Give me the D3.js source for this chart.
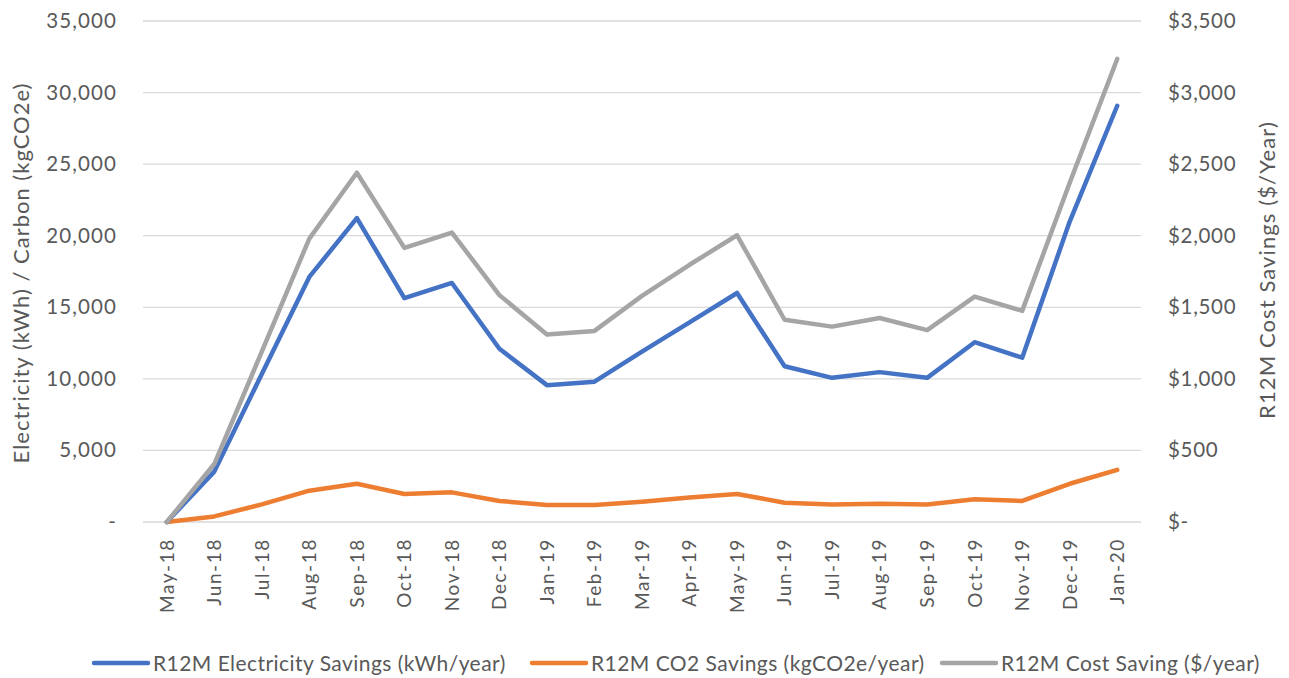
<!DOCTYPE html>
<html><head><meta charset="utf-8">
<script src="https://cdn.jsdelivr.net/npm/d3@7"></script>
<style>body{margin:0;background:#fff;}svg{display:block;font-family:Lato,"Open Sans",sans-serif;}</style>
</head><body><svg id="c" width="1289" height="678"></svg>
<script>
const months = ["May-18","Jun-18","Jul-18","Aug-18","Sep-18","Oct-18","Nov-18","Dec-18","Jan-19","Feb-19","Mar-19","Apr-19","May-19","Jun-19","Jul-19","Aug-19","Sep-19","Oct-19","Nov-19","Dec-19","Jan-20"];
const electricity = [0,3520,10340,17120,21230,15640,16700,12100,9560,9800,11900,13950,16000,10880,10070,10470,10070,12560,11480,20990,29080];
const co2 = [0,390,1230,2190,2670,1960,2070,1470,1190,1190,1420,1710,1960,1350,1230,1280,1230,1590,1470,2670,3640];
const cost = [0,405,1190,1980,2440,1915,2022,1585,1310,1335,1580,1797,2003,1413,1365,1425,1340,1575,1475,2370,3235];
const leftTicks = [0,5000,10000,15000,20000,25000,30000,35000];
const rightTicks = [0,500,1000,1500,2000,2500,3000,3500];
const seriesNames = ["R12M Electricity Savings (kWh/year)","R12M CO2 Savings (kgCO2e/year)","R12M Cost Saving ($/year)"];
const colors = ["#4472C4","#ED7D31","#A5A5A5"];

const svg = d3.select("#c");
const m = {l:143, r:1141, t:21, b:522};
const x = d3.scaleBand().domain(months).range([m.l, m.r]);
const yL = d3.scaleLinear().domain([0,35000]).range([m.b, m.t]);
const yR = d3.scaleLinear().domain([0,3500]).range([m.b, m.t]);
const txt = "#595959";

// gridlines
svg.append("g").selectAll("line").data(leftTicks).join("line")
  .attr("x1", m.l).attr("x2", m.r)
  .attr("y1", d=>yL(d)).attr("y2", d=>yL(d))
  .attr("stroke","#D9D9D9").attr("stroke-width",1.3);

// left axis
const fmtL = d => d===0 ? "-" : d3.format(",")(d);
const axL = svg.append("g").attr("transform",`translate(${m.l-26},0)`)
  .call(d3.axisLeft(yL).tickValues(leftTicks).tickFormat(fmtL).tickSize(0).tickPadding(0));
axL.select(".domain").remove();
axL.selectAll("text").attr("fill",txt).style("font-size","20.5px").style("font-family","Lato,sans-serif")
  .style("letter-spacing","1.1px");

// right axis
const fmtR = d => d===0 ? "$-" : "$" + d3.format(",")(d);
const axR = svg.append("g").attr("transform",`translate(${m.r+27},0)`)
  .call(d3.axisRight(yR).tickValues(rightTicks).tickFormat(fmtR).tickSize(0).tickPadding(0));
axR.select(".domain").remove();
axR.selectAll("text").attr("fill",txt).style("font-size","20.5px").style("font-family","Lato,sans-serif")
  .style("letter-spacing","0.7px");

// bottom axis
const axB = svg.append("g").attr("transform",`translate(0,${m.b})`)
  .call(d3.axisBottom(x).tickSize(0).tickPadding(0));
axB.select(".domain").remove();
axB.selectAll("text").attr("fill",txt).style("font-size","19px").style("font-family","Lato,sans-serif")
  .attr("text-anchor","end").attr("dy","0.36em")
  .attr("transform","translate(0,16) rotate(-90)").attr("x",0).attr("y",0)
  .style("letter-spacing","1.6px");

// axis titles
svg.append("text").attr("transform","translate(29,273) rotate(-90)")
  .attr("text-anchor","middle").attr("fill",txt).style("font-size","22px").style("letter-spacing","1px")
  .text("Electricity (kWh) / Carbon (kgCO2e)");
svg.append("text").attr("transform","translate(1275,270) rotate(-90)")
  .attr("text-anchor","middle").attr("fill",txt).style("font-size","22px").style("letter-spacing","1.1px")
  .text("R12M Cost Savings ($/Year)");

// lines
const cx = d => x(d) + x.bandwidth()/2;
const lineL = d3.line().x((d,i)=>cx(months[i])).y(d=>yL(d));
const lineR = d3.line().x((d,i)=>cx(months[i])).y(d=>yR(d));
const draw = (data, gen, col) => svg.append("path").datum(data).attr("d",gen).attr("fill","none")
  .attr("stroke",col).attr("stroke-width",4.5).attr("stroke-linejoin","round").attr("stroke-linecap","round");
draw(co2, lineL, colors[1]);
draw(electricity, lineL, colors[0]);
draw(cost, lineR, colors[2]);

// legend
const legX = [94, 532, 942];
const lg = svg.append("g");
seriesNames.forEach((n,i)=>{
  lg.append("line").attr("x1",legX[i]).attr("x2",legX[i]+54).attr("y1",663).attr("y2",663)
    .attr("stroke",colors[i]).attr("stroke-width",4.5).attr("stroke-linecap","round");
  lg.append("text").attr("x",legX[i]+59).attr("y",663).attr("dy","0.36em")
    .attr("fill",txt).style("font-size","21px").style("letter-spacing","0.45px").text(n);
});
</script></body></html>
